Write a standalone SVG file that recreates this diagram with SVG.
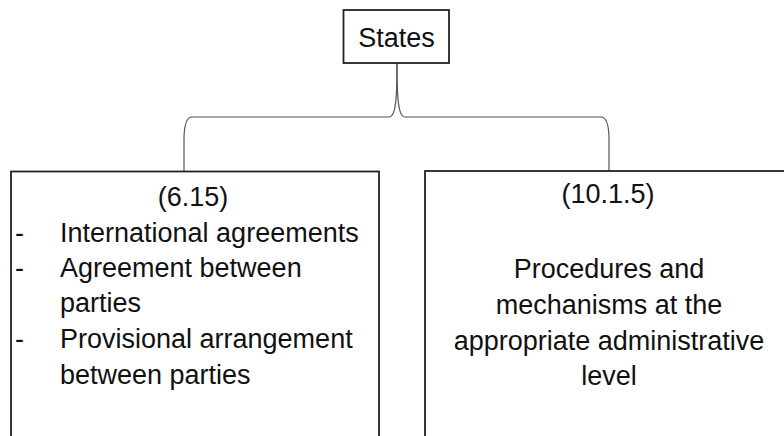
<svg xmlns="http://www.w3.org/2000/svg" width="784" height="436" viewBox="0 0 784 436">
<style>
.box{fill:#fff;stroke:#222;stroke-width:1.8}
.conn{fill:none;stroke:#555;stroke-width:1.2}
text{font-family:"Liberation Sans",Arial,sans-serif;font-size:27px;fill:#111}
.c{text-anchor:middle}
</style>
<rect width="784" height="436" fill="#fff"/>
<g id="connectors">
<path class="conn" d="M397,63 C397,97 396,117 389,117 L192,117 C186,117 184,125 184,140 L184,171"/>
<path class="conn" d="M397,63 C397,97 398,117 405,117 L601,117 C607,117 609,125 609,140 L609,171"/>
</g>
<g id="states">
<rect class="box" x="343.5" y="10" width="105.5" height="53"/>
<text class="c" x="396.5" y="47" font-size="28">States</text>
</g>
<g id="box-6-15">
<rect class="box" x="11" y="171.5" width="368" height="290"/>
<text class="c" x="193" y="206">(6.15)</text>
<text x="15" y="242">-</text>
<text x="60" y="242">International agreements</text>
<text x="15" y="277">-</text>
<text x="60" y="277">Agreement between</text>
<text x="60" y="312">parties</text>
<text x="15" y="348">-</text>
<text x="60" y="348">Provisional arrangement</text>
<text x="60" y="384">between parties</text>
</g>
<g id="box-10-1-5">
<rect class="box" x="425" y="171" width="370" height="290"/>
<text class="c" x="608" y="203">(10.1.5)</text>
<text class="c" x="609" y="278">Procedures and</text>
<text class="c" x="609" y="314">mechanisms at the</text>
<text class="c" x="609" y="350">appropriate administrative</text>
<text class="c" x="609" y="385">level</text>
</g>
</svg>
